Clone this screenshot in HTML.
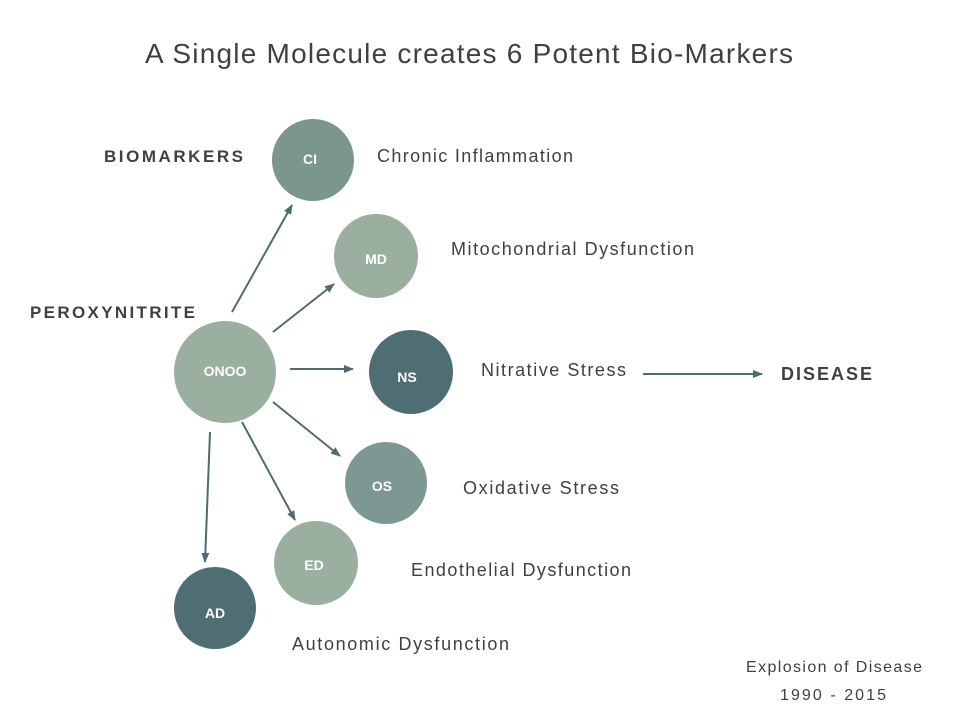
<!DOCTYPE html>
<html><head><style>
body{margin:0;width:960px;height:720px;background:#fff;overflow:hidden}
svg{display:block}
text{font-family:"Liberation Sans",sans-serif}
</style></head><body>
<svg width="960" height="720" viewBox="0 0 960 720">
<defs><marker id="a" markerWidth="10" markerHeight="8" refX="9" refY="4" orient="auto" markerUnits="userSpaceOnUse"><path d="M0,0 L10,4 L0,8 Z" fill="#4f6b70"/></marker></defs>
<text x="145" y="63" textLength="648" lengthAdjust="spacing" font-size="28" fill="#404040">A Single Molecule creates 6 Potent Bio-Markers</text>
<text x="104" y="162" textLength="139" lengthAdjust="spacing" font-size="17" font-weight="bold" fill="#404040">BIOMARKERS</text>
<text x="30" y="318" textLength="165" lengthAdjust="spacing" font-size="17" font-weight="bold" fill="#404040">PEROXYNITRITE</text>
<text x="781" y="380" textLength="91" lengthAdjust="spacing" font-size="18" font-weight="bold" fill="#404040">DISEASE</text>
<g stroke="#4f6b70" stroke-width="2" fill="none" marker-end="url(#a)">
<line x1="232" y1="312" x2="292" y2="205"/>
<line x1="273" y1="332" x2="334" y2="284"/>
<line x1="290" y1="369" x2="353" y2="369"/>
<line x1="273" y1="402" x2="340" y2="456"/>
<line x1="242" y1="422" x2="295" y2="520"/>
<line x1="210" y1="432" x2="205" y2="562"/>
<line x1="643" y1="374" x2="762" y2="374"/>
</g>
<circle cx="313" cy="160" r="41" fill="#7a968f"/>
<circle cx="376" cy="256" r="42" fill="#9aaf9f"/>
<circle cx="225" cy="372" r="51" fill="#9aaf9f"/>
<circle cx="411" cy="372" r="42" fill="#4f6e73"/>
<circle cx="386" cy="483" r="41" fill="#7d9892"/>
<circle cx="316" cy="563" r="42" fill="#9aaf9f"/>
<circle cx="215" cy="608" r="41" fill="#4f6e73"/>
<g fill="#fff" font-size="14" font-weight="bold" text-anchor="middle">
<text x="310" y="164">CI</text>
<text x="376" y="264">MD</text>
<text x="225" y="376">ONOO</text>
<text x="407" y="382">NS</text>
<text x="382" y="491">OS</text>
<text x="314" y="570">ED</text>
<text x="215" y="618">AD</text>
</g>
<g fill="#404040" font-size="18" lengthAdjust="spacing">
<text x="377" y="162" textLength="196">Chronic Inflammation</text>
<text x="451" y="255" textLength="243">Mitochondrial Dysfunction</text>
<text x="481" y="376" textLength="145">Nitrative Stress</text>
<text x="463" y="494" textLength="156">Oxidative Stress</text>
<text x="411" y="576" textLength="220">Endothelial Dysfunction</text>
<text x="292" y="650" textLength="217">Autonomic Dysfunction</text>
</g>
<text x="746" y="672" textLength="176" lengthAdjust="spacing" font-size="16" fill="#404040">Explosion of Disease</text>
<text x="780" y="700" textLength="106" lengthAdjust="spacing" font-size="16" fill="#404040">1990 - 2015</text>
</svg>
</body></html>
